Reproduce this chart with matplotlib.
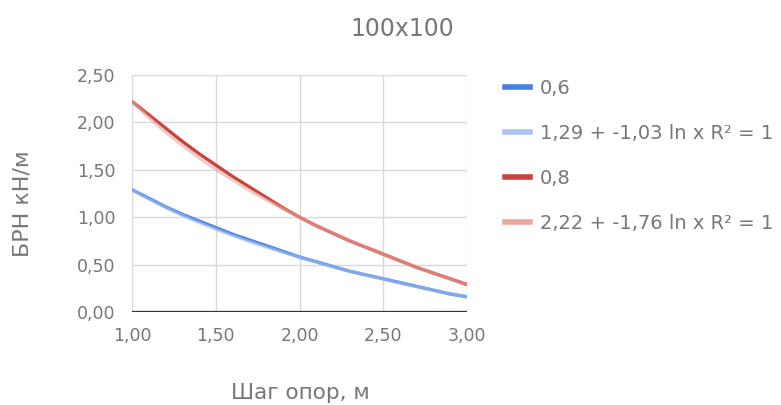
import numpy as np
import matplotlib.pyplot as plt
from matplotlib.ticker import FuncFormatter, MultipleLocator
from matplotlib.lines import Line2D

plt.rcParams['font.family'] = ['DejaVu Sans']

# Support spacing, m
step = [1.0, 1.1, 1.2, 1.3, 1.4, 1.5, 1.6, 1.7, 1.8, 1.9, 2.0,
        2.1, 2.2, 2.3, 2.4, 2.5, 2.6, 2.7, 2.8, 2.9, 3.0]
# Load, kN/m
load_06 = [1.29, 1.20, 1.11, 1.03, 0.96, 0.89, 0.82, 0.76, 0.70, 0.64, 0.58,
           0.53, 0.48, 0.43, 0.39, 0.35, 0.31, 0.27, 0.23, 0.19, 0.16]
load_08 = [2.22, 2.08, 1.94, 1.80, 1.67, 1.55, 1.43, 1.32, 1.21, 1.10, 1.00,
           0.91, 0.83, 0.75, 0.68, 0.61, 0.54, 0.47, 0.41, 0.35, 0.29]

# Logarithmic trendlines: a + b ln x
trend_06 = (1.29, -1.03)
trend_08 = (2.22, -1.76)

series_names = ['0,6', '0,8']
title = '100x100'
xlabel = 'Шаг опор, м'
ylabel = 'БРН кН/м'

blue = '#4a7fe0'
red = '#c6443c'
blue_light = '#a9c4f2'
red_light = '#efa69f'
text_grey = '#777777'

W, H = 781, 405
fig = plt.figure(figsize=(W / 100, H / 100), dpi=100)
ax = fig.add_axes([132 / W, 1 - 312 / H, (467 - 132) / W, (312 - 75) / H])

xs = np.linspace(step[0], step[-1], 200)
ax.plot(step, load_06, color=blue, lw=2.4, solid_capstyle='round', zorder=3)
ax.plot(xs, trend_06[0] + trend_06[1] * np.log(xs), color=blue_light, lw=2.4, alpha=0.6, zorder=4)
ax.plot(step, load_08, color=red, lw=2.4, solid_capstyle='round', zorder=3)
ax.plot(xs, trend_08[0] + trend_08[1] * np.log(xs), color=red_light, lw=2.4, alpha=0.6, zorder=4)

ax.set_xlim(1, 3)
ax.set_ylim(0, 2.5)
ax.xaxis.set_major_locator(MultipleLocator(0.5))
ax.yaxis.set_major_locator(MultipleLocator(0.5))
fmt = FuncFormatter(lambda v, p: f'{v:.2f}'.replace('.', ','))
ax.xaxis.set_major_formatter(fmt)
ax.yaxis.set_major_formatter(fmt)
ax.grid(True, color='#d9d9d9', lw=1.0, zorder=0)
for s in ax.spines.values():
    s.set_visible(False)
ax.axhline(0, color='#333333', lw=1.6, zorder=5)
ax.tick_params(axis='both', length=0, labelsize=12.5, labelcolor=text_grey)
ax.tick_params(axis='y', pad=12)
ax.tick_params(axis='x', pad=11)

fig.text(300 / W, 1 - 399 / H, xlabel, ha='center', va='baseline', fontsize=15.5, color=text_grey)
fig.text(23 / W, 1 - 204 / H, ylabel, ha='center', va='center', rotation=90,
         fontsize=16, color=text_grey)
fig.text(402 / W, 1 - 36 / H, title, ha='center', va='baseline', fontsize=17, color=text_grey)

handles = [
    Line2D([], [], color=blue, lw=4),
    Line2D([], [], color=blue_light, lw=4),
    Line2D([], [], color=red, lw=4),
    Line2D([], [], color=red_light, lw=4),
]
labels = [
    series_names[0],
    f'{trend_06[0]:.2f} + {trend_06[1]:.2f} ln x R² = 1'.replace('.', ','),
    series_names[1],
    f'{trend_08[0]:.2f} + {trend_08[1]:.2f} ln x R² = 1'.replace('.', ','),
]
leg = fig.legend(handles, labels, loc='upper left', bbox_to_anchor=(505 / W, 1 - 79 / H),
                 frameon=False, fontsize=14, handlelength=1.29, handletextpad=0.5,
                 labelspacing=1.34, borderaxespad=0, borderpad=0)
for t in leg.get_texts():
    t.set_color(text_grey)

fig.savefig('out.png', dpi=100)
